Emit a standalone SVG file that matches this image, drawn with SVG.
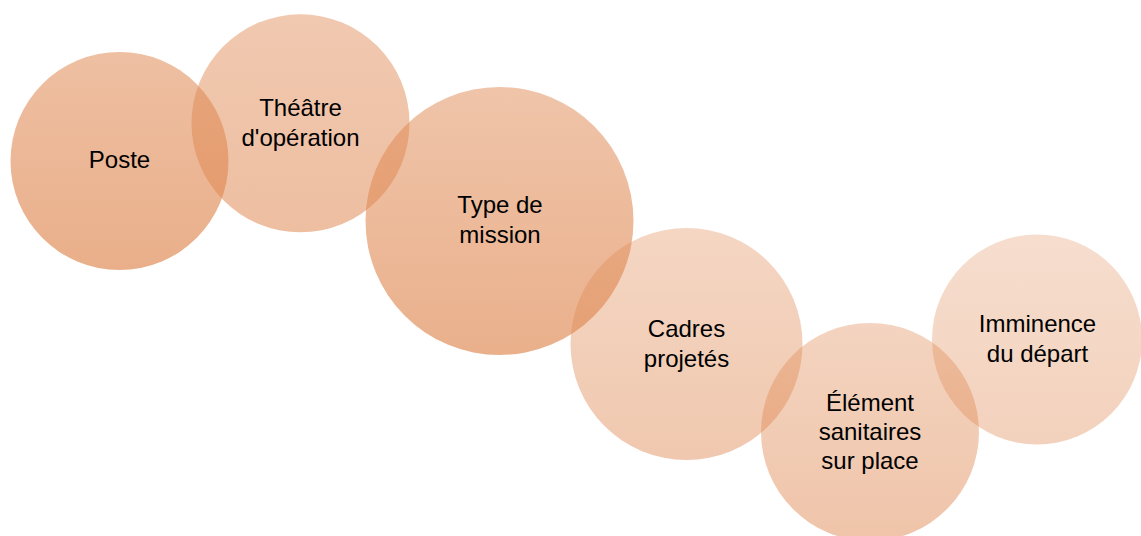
<svg xmlns="http://www.w3.org/2000/svg" width="1141" height="536" viewBox="0 0 1141 536">
<style>
text{font-family:"Liberation Sans",Arial,sans-serif;font-size:24px;fill:#000;text-anchor:middle}
</style>
<defs>
<linearGradient id="g1" x1="0" y1="0" x2="0" y2="1"><stop offset="0" stop-color="#DF8750" stop-opacity="0.53"/><stop offset="1" stop-color="#DF8750" stop-opacity="0.67"/></linearGradient>
<linearGradient id="g2" x1="0" y1="0" x2="0" y2="1"><stop offset="0" stop-color="#DF8750" stop-opacity="0.45"/><stop offset="1" stop-color="#DF8750" stop-opacity="0.54"/></linearGradient>
<linearGradient id="g3" x1="0" y1="0" x2="0" y2="1"><stop offset="0" stop-color="#DF8750" stop-opacity="0.49"/><stop offset="1" stop-color="#DF8750" stop-opacity="0.66"/></linearGradient>
<linearGradient id="g4" x1="0" y1="0" x2="0" y2="1"><stop offset="0" stop-color="#DF8750" stop-opacity="0.34"/><stop offset="1" stop-color="#DF8750" stop-opacity="0.46"/></linearGradient>
<linearGradient id="g5" x1="0" y1="0" x2="0" y2="1"><stop offset="0" stop-color="#DF8750" stop-opacity="0.36"/><stop offset="1" stop-color="#DF8750" stop-opacity="0.49"/></linearGradient>
<linearGradient id="g6" x1="0" y1="0" x2="0" y2="1"><stop offset="0" stop-color="#DF8750" stop-opacity="0.28"/><stop offset="1" stop-color="#DF8750" stop-opacity="0.38"/></linearGradient>
</defs>
<rect width="1141" height="536" fill="#fff"/>
<g id="connectors"/>
<g id="n1"><circle cx="119.5" cy="161" r="109" fill="url(#g1)"/><text x="119.5" y="168">Poste</text></g>
<g id="n2"><circle cx="300.5" cy="123.3" r="109" fill="url(#g2)"/><text x="300.5" y="116">Théâtre</text><text x="300.5" y="146">d'opération</text></g>
<g id="n3"><circle cx="499.5" cy="221" r="134" fill="url(#g3)"/><text x="500" y="213">Type de</text><text x="500" y="243">mission</text></g>
<g id="n4"><circle cx="686.5" cy="344" r="116" fill="url(#g4)"/><text x="686.5" y="337">Cadres</text><text x="686.5" y="367">projetés</text></g>
<g id="n5"><circle cx="870" cy="432" r="109" fill="url(#g5)"/><text x="870" y="411">Élément</text><text x="870" y="440">sanitaires</text><text x="870" y="469">sur place</text></g>
<g id="n6"><circle cx="1037" cy="339.5" r="105" fill="url(#g6)"/><text x="1037.5" y="332">Imminence</text><text x="1037.5" y="362">du départ</text></g>
</svg>
